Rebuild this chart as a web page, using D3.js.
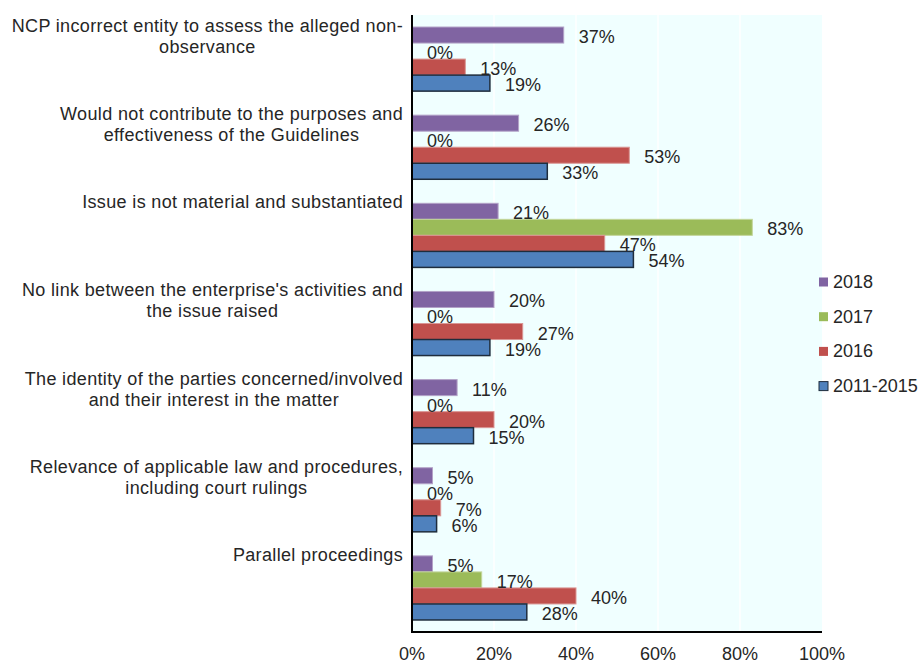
<!DOCTYPE html>
<html>
<head>
<meta charset="utf-8">
<script src="https://cdn.jsdelivr.net/npm/d3@7"></script>
<style>
  html, body { margin: 0; padding: 0; background: #ffffff; }
  svg { display: block; font-family: "Liberation Sans", Arial, sans-serif; }
</style>
</head>
<body>
<svg id="chart" width="923" height="661"></svg>
<script>
// Reasons given for not accepting specific instances, by period
const categories = [
  "NCP incorrect entity to assess the alleged non-\nobservance",
  "Would not contribute to the purposes and\neffectiveness of the Guidelines",
  "Issue is not material and substantiated",
  "No link between the enterprise's activities and\nthe issue raised",
  "The identity of the parties concerned/involved\nand their interest in the matter",
  "Relevance of applicable law and procedures,\nincluding court rulings",
  "Parallel proceedings"
];
const seriesNames = ["2018", "2017", "2016", "2011-2015"];
const values2018 = [37, 26, 21, 20, 11, 5, 5];
const values2017 = [0, 0, 83, 0, 0, 0, 17];
const values2016 = [13, 53, 47, 27, 20, 7, 40];
const values2011to2015 = [19, 33, 54, 19, 15, 6, 28];
const xTicks = [0, 20, 40, 60, 80, 100];

const seriesValues = [values2018, values2017, values2016, values2011to2015];
const colors = ["#8064A2", "#9BBB59", "#C0504D", "#4F81BD"];
const strokes = ["#b3a2c7", "#c3d69b", "#d99694", "#1f2d3d"];

const svg = d3.select("#chart");
const plot = { left: 412, right: 822, top: 15, bottom: 632 };
const textColor = "#262626";

const x = d3.scaleLinear().domain([0, 100]).range([plot.left, plot.right]);
const y0 = d3.scaleBand().domain(d3.range(categories.length))
  .range([plot.top, plot.bottom]).paddingInner(0).paddingOuter(0);
const y1 = d3.scaleBand().domain(d3.range(seriesNames.length))
  .range([0, y0.bandwidth()]).paddingOuter(0.75).paddingInner(0);

// plot background
svg.append("rect")
  .attr("x", plot.left).attr("y", plot.top)
  .attr("width", plot.right - plot.left).attr("height", plot.bottom - plot.top)
  .attr("fill", "#F0FFFF");

// vertical gridlines
svg.append("g")
  .selectAll("line")
  .data(xTicks.slice(1, -1))
  .join("line")
  .attr("x1", d => x(d)).attr("x2", d => x(d))
  .attr("y1", plot.top).attr("y2", plot.bottom)
  .attr("stroke", "#ffffff").attr("stroke-width", 1.5);

// bars
const rows = [];
categories.forEach((c, i) => {
  seriesValues.forEach((vals, s) => rows.push({ cat: i, s, v: vals[i] }));
});

svg.append("g")
  .selectAll("rect")
  .data(rows.filter(d => d.v > 0))
  .join("rect")
  .attr("x", x(0))
  .attr("y", d => y0(d.cat) + y1(d.s))
  .attr("width", d => x(d.v) - x(0))
  .attr("height", y1.bandwidth())
  .attr("fill", d => colors[d.s])
  .attr("stroke", d => strokes[d.s])
  .attr("stroke-width", d => d.s === 3 ? 1.5 : 1);

// value labels
svg.append("g")
  .selectAll("text")
  .data(rows)
  .join("text")
  .attr("x", d => x(d.v) + 15)
  .attr("y", d => y0(d.cat) + y1(d.s) + y1.bandwidth() / 2 + 2)
  .attr("dominant-baseline", "central")
  .attr("font-size", 18)
  .attr("fill", textColor)
  .text(d => d.v + "%");

// axis lines
svg.append("line")
  .attr("x1", plot.left).attr("x2", plot.left)
  .attr("y1", plot.top).attr("y2", plot.bottom + 1)
  .attr("stroke", "#000").attr("stroke-width", 2);
svg.append("line")
  .attr("x1", plot.left - 1).attr("x2", plot.right)
  .attr("y1", plot.bottom).attr("y2", plot.bottom)
  .attr("stroke", "#000").attr("stroke-width", 2);

// x tick labels
svg.append("g")
  .selectAll("text")
  .data(xTicks)
  .join("text")
  .attr("x", d => x(d))
  .attr("y", 654)
  .attr("text-anchor", "middle")
  .attr("dominant-baseline", "central")
  .attr("font-size", 18)
  .attr("fill", textColor)
  .text(d => d + "%");

// category labels: centred lines, block right-aligned to the axis
const catG = svg.append("g");
categories.forEach((c, i) => {
  const lines = c.split("\n");
  const g = catG.append("g");
  const texts = lines.map((ln, k) => g.append("text")
    .attr("y", y0(i) + 11 + k * 21)
    .attr("dominant-baseline", "central")
    .attr("text-anchor", "middle")
    .attr("font-size", 18)
    .attr("letter-spacing", 0.35)
    .attr("fill", textColor)
    .text(ln));
  const maxW = d3.max(texts, t => t.node().getComputedTextLength());
  const cx = 403 - maxW / 2;
  texts.forEach(t => t.attr("x", cx));
});

// legend
const legend = svg.append("g");
seriesNames.forEach((name, s) => {
  const ly = 282 + s * 34.7;
  legend.append("rect")
    .attr("x", 819).attr("y", ly - 4.5)
    .attr("width", 9).attr("height", 9)
    .attr("fill", colors[s])
    .attr("stroke", s === 3 ? "#1f2d3d" : "none")
    .attr("stroke-width", 1);
  legend.append("text")
    .attr("x", 833).attr("y", ly)
    .attr("dominant-baseline", "central")
    .attr("font-size", 18)
    .attr("fill", textColor)
    .text(name);
});
</script>
</body>
</html>
